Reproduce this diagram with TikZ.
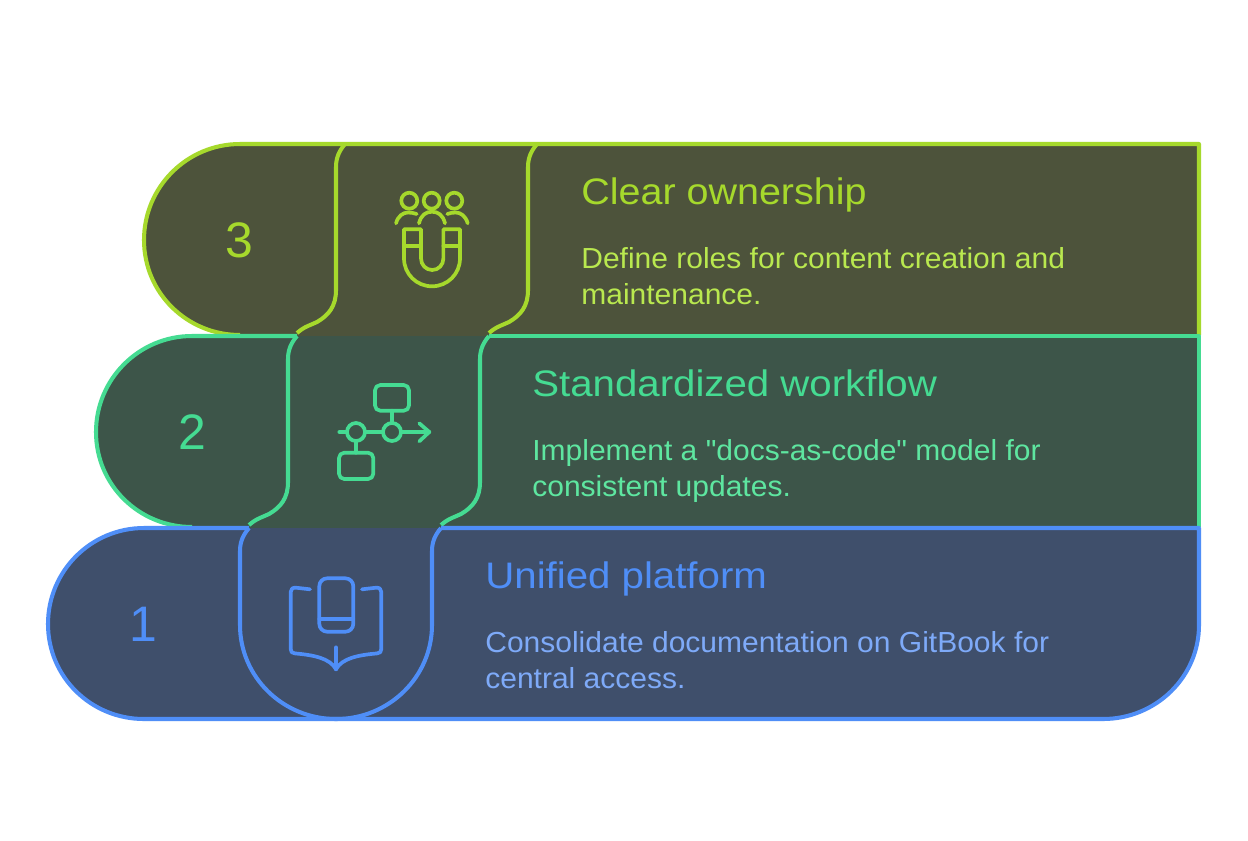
\documentclass[tikz,border=0pt]{standalone}
\usepackage{fontspec}
\setmainfont{Liberation Sans}
\newfontfamily\numfont{Liberation Sans}
\newfontfamily\titlefont[FakeStretch=1.07]{Liberation Sans}
\newfontfamily\titlefontb[FakeStretch=1.09]{Liberation Sans}
\newfontfamily\bodyfont[FakeStretch=1.035]{Liberation Sans}
\definecolor{limeL}{HTML}{A6D92C}
\definecolor{limeB}{HTML}{B9E84F}
\definecolor{limeF}{HTML}{4D533B}
\definecolor{greenL}{HTML}{45DB92}
\definecolor{greenB}{HTML}{5EE6A0}
\definecolor{greenF}{HTML}{3D5549}
\definecolor{blueL}{HTML}{4F8EF7}
\definecolor{blueB}{HTML}{7EAAF8}
\definecolor{blueF}{HTML}{3F4F6B}
\tikzset{
  x=0.02cm,y=-0.02cm,
  edge/.style={line width=2.3pt,line join=round,line cap=butt},
  ico/.style={line width=2.1pt,line join=round,line cap=round},
  numtxt/.style={inner sep=0pt,font=\numfont\fontsize{28.4}{30}\selectfont},
  titletxt/.style={anchor=base west,inner sep=0pt,font=\titlefont\fontsize{21}{24}\selectfont},
  titletxtb/.style={anchor=base west,inner sep=0pt,font=\titlefontb\fontsize{21}{24}\selectfont},
  bodytxt/.style={anchor=base west,inner sep=0pt,font=\bodyfont\fontsize{16.5}{20.4}\selectfont},
}
\begin{document}
\begin{tikzpicture}
\useasboundingbox[fill=white] (0,0) rectangle (1248,840);
% band 3
\fill[limeF] (240,144) -- (1199,144) -- (1199,337) -- (250,337) -- (240,335) .. controls (187,335) and (144,293) .. (144,240) .. controls (144,187) and (187,144) .. (240,144) -- cycle;
\draw[edge,limeL] (297,333) .. controls (305,326) and (311,325) .. (317,322) .. controls (329,315) and (336,306) .. (336,290) -- (336,167) .. controls (336,158) and (339,151) .. (345,144);
\draw[edge,limeL] (489,333) .. controls (497,326) and (503,325) .. (509,322) .. controls (521,315) and (528,306) .. (528,290) -- (528,167) .. controls (528,158) and (531,151) .. (537,144);
\draw[edge,limeL] (240,335) .. controls (187,335) and (144,293) .. (144,240) .. controls (144,187) and (187,144) .. (240,144) -- (1199,144) -- (1199,335);
\node[numtxt,text=limeL] (n3) at (239.5,240) {3};
\node[titletxt,text=limeL] (t3) at (581,204) {Clear ownership};
\node[bodytxt,text=limeB] (b3a) at (581,268) {Define roles for content creation and};
\node[bodytxt,text=limeB] (b3b) at (581,304) {maintenance.};
\begin{scope}[ico,limeL]
\draw (409.3,200.7) circle[radius=8];
\draw (431.7,200.7) circle[radius=8];
\draw (454.3,200.7) circle[radius=8];
\draw (419,223.3) .. controls (421,215) and (426,211.7) .. (432,211.7) .. controls (438,211.7) and (443,215) .. (445,223.3);
\draw (396,223.3) .. controls (398,216) and (403,212.5) .. (408,212.5) .. controls (411,212.5) and (414,213) .. (416.7,214);
\draw (467.7,223.3) .. controls (465.7,216) and (460.7,212.5) .. (455.7,212.5) .. controls (452.7,212.5) and (449.7,213) .. (447.3,214);
\draw (404,229.3) -- (421,229.3) -- (421,258.3) .. controls (421,265) and (426,270) .. (432.2,270) .. controls (438.4,270) and (443.4,265) .. (443.4,258.3) -- (443.4,229.3) -- (460,229.3) -- (460,258.3) .. controls (460,274) and (447.5,286.3) .. (432,286.3) .. controls (416.5,286.3) and (404,274) .. (404,258.3) -- cycle;
\draw (404,245.7) -- (421,245.7) (443.4,245.7) -- (460,245.7);
\end{scope}
% band 2
\fill[greenF] (192,336) -- (1199,336) -- (1199,529) -- (202,529) -- (192,527) .. controls (139,527) and (96,485) .. (96,432) .. controls (96,379) and (139,336) .. (192,336) -- cycle;
\draw[edge,greenL] (249,525) .. controls (257,518) and (263,517) .. (269,514) .. controls (281,507) and (288,498) .. (288,482) -- (288,359) .. controls (288,350) and (291,343) .. (297,336);
\draw[edge,greenL] (441,525) .. controls (449,518) and (455,517) .. (461,514) .. controls (473,507) and (480,498) .. (480,482) -- (480,359) .. controls (480,350) and (483,343) .. (489,336);
\draw[edge,greenL] (192,527) .. controls (139,527) and (96,485) .. (96,432) .. controls (96,379) and (139,336) .. (192,336) -- (297,336);
\draw[edge,greenL] (489,336) -- (1199,336) -- (1199,527);
\node[numtxt,text=greenL] (n2) at (192,432) {2};
\node[titletxtb,text=greenL] (t2) at (532,396) {Standardized workflow};
\node[bodytxt,text=greenB] (b2a) at (532,460) {Implement a "docs-as-code" model for};
\node[bodytxt,text=greenB] (b2b) at (532,496) {consistent updates.};
\begin{scope}[ico,greenL]
\draw[rounded corners=3pt] (375,385) rectangle (409,410.7);
\draw[rounded corners=3pt] (339,452.7) rectangle (373.3,479);
\draw (392,410.7) -- (392,423);
\draw (392,432) circle[radius=9];
\draw (356,432) circle[radius=9];
\draw (339.3,432) -- (347,432) (365,432) -- (383,432) (401,432) -- (429.3,432);
\draw (419.3,423.3) -- (429.3,432) -- (419.3,441.3);
\draw (356,441) -- (356,452.7);
\end{scope}
% band 1
\fill[blueF] (144,528) -- (1199,528) -- (1199,625) .. controls (1199,677) and (1156,719) .. (1103,719) -- (144,719) .. controls (91,719) and (48,677) .. (48,624) .. controls (48,571) and (91,528) .. (144,528) -- cycle;
\draw[edge,blueL] (249,528) .. controls (243,535) and (240,542) .. (240,551) -- (240,625) .. controls (240,677) and (283,719) .. (336,719) .. controls (389,719) and (432,677) .. (432,625) -- (432,551) .. controls (432,542) and (435,535) .. (441,528);
\draw[edge,blueL] (249,528) -- (144,528) .. controls (91,528) and (48,571) .. (48,624) .. controls (48,677) and (91,719) .. (144,719) -- (1103,719) .. controls (1156,719) and (1199,677) .. (1199,625) -- (1199,528) -- (441,528);
\node[numtxt,text=blueL] (n1) at (143,624) {1};
\node[titletxtb,text=blueL] (t1) at (485,588) {Unified platform};
\node[bodytxt,text=blueB] (b1a) at (485,652) {Consolidate documentation on GitBook for};
\node[bodytxt,text=blueB] (b1b) at (485,688) {central access.};
\begin{scope}[ico,blueL]
\draw[rounded corners=4.5pt] (319.3,578.3) rectangle (353.3,631.7);
\draw (319.3,619) -- (353.3,619);
\draw (310,589.3) -- (296,587.7) .. controls (292.5,587.5) and (290.7,589) .. (290.7,592) -- (290.7,649) .. controls (290.7,652) and (292,653.2) .. (295,653.4) .. controls (313,655) and (330,658) .. (336,669.3) .. controls (342,658) and (359,655) .. (377,653.4) .. controls (380,653.2) and (381.3,652) .. (381.3,649) -- (381.3,592) .. controls (381.3,589) and (379.5,587.5) .. (376,587.7) -- (362,589.3);
\draw (336,647.3) -- (336,669.3);
\end{scope}
\end{tikzpicture}
\end{document}
